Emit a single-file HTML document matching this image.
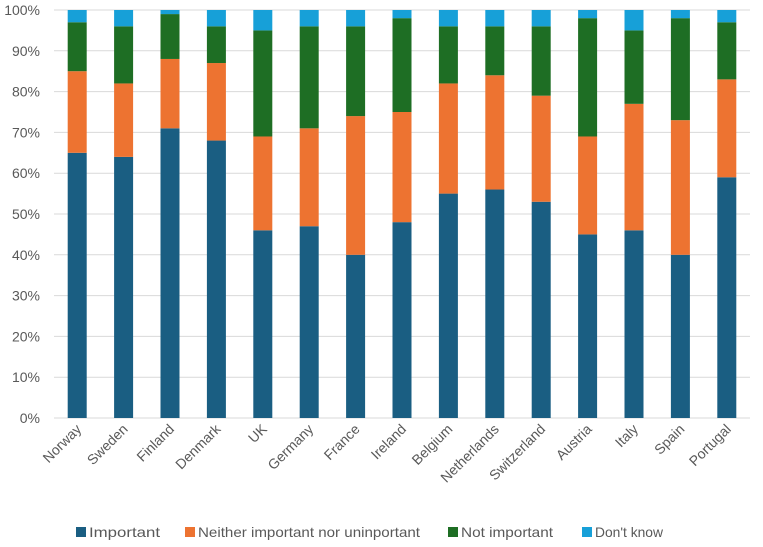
<!DOCTYPE html>
<html><head><meta charset="utf-8"><style>
body{margin:0;background:#fff;font-family:"Liberation Sans",sans-serif;}
svg text{font-family:"Liberation Sans",sans-serif;fill:#595959;}
</style></head><body>
<svg width="763" height="542" id="chart"></svg>
<script>
const categories=["Norway","Sweden","Finland","Denmark","UK","Germany","France","Ireland","Belgium","Netherlands","Switzerland","Austria","Italy","Spain","Portugal"];
const important=[65,64,71,68,46,47,40,48,55,56,53,45,46,40,59];
const neither=[20,18,17,19,23,24,34,27,27,28,26,24,31,33,24];
const notImportant=[12,14,11,9,26,25,22,23,14,12,17,29,18,25,14];
const dontKnow=[3,4,1,4,5,4,4,2,4,4,4,2,5,2,3];
const yTicks=[0,10,20,30,40,50,60,70,80,90,100];
const seriesNames=["Important","Neither important nor uninportant","Not important","Don't know"];
const colors=["#1a5e82","#ed7331","#1e6e24","#17a0d8"];
const NS="http://www.w3.org/2000/svg";
const svg=document.getElementById('chart');
const x0=54,x1=750,yTop=10,yBot=418;
const y=v=>yBot-(yBot-yTop)*v/100;
const step=(x1-x0)/categories.length;
const xc=i=>x0+step*(i+0.5);
const bw=19;
function mk(t,a){const e=document.createElementNS(NS,t);for(const k in a)e.setAttribute(k,a[k]);svg.appendChild(e);return e;}
yTicks.forEach(t=>{
 const l=mk('line',{x1:x0,x2:x1,y1:y(t),y2:y(t),stroke:'#d9d9d9','stroke-width':1});
 
 
 const tx=mk('text',{x:40,y:y(t)+5,'text-anchor':'end','font-size':14});
 tx.textContent=t+'%';
 
 
});
const series=[important,neither,notImportant,dontKnow];
categories.forEach((c,i)=>{
 let acc=0;
 series.forEach((s,k)=>{
  const r=mk('rect',{x:xc(i)-bw/2,y:y(acc+s[i]),width:bw,height:y(acc)-y(acc+s[i]),fill:colors[k]});
  
  
  acc+=s[i];
 });
 const t=mk('text',{x:xc(i)+5,y:430,'text-anchor':'end','font-size':14,transform:`rotate(-45 ${xc(i)+5} 430)`});
 t.textContent=c;
 
 
});
const lx=[76,185,448,582];
const lw=[71,222,92,68];
seriesNames.forEach((n,k)=>{
 const r=mk('rect',{x:lx[k],y:527,width:10,height:10,fill:colors[k]});
 
 
 const t=mk('text',{x:lx[k]+13,y:537,'font-size':14,textLength:lw[k],lengthAdjust:'spacingAndGlyphs'});
 t.textContent=n;
 
 
});
</script>
</body></html>
